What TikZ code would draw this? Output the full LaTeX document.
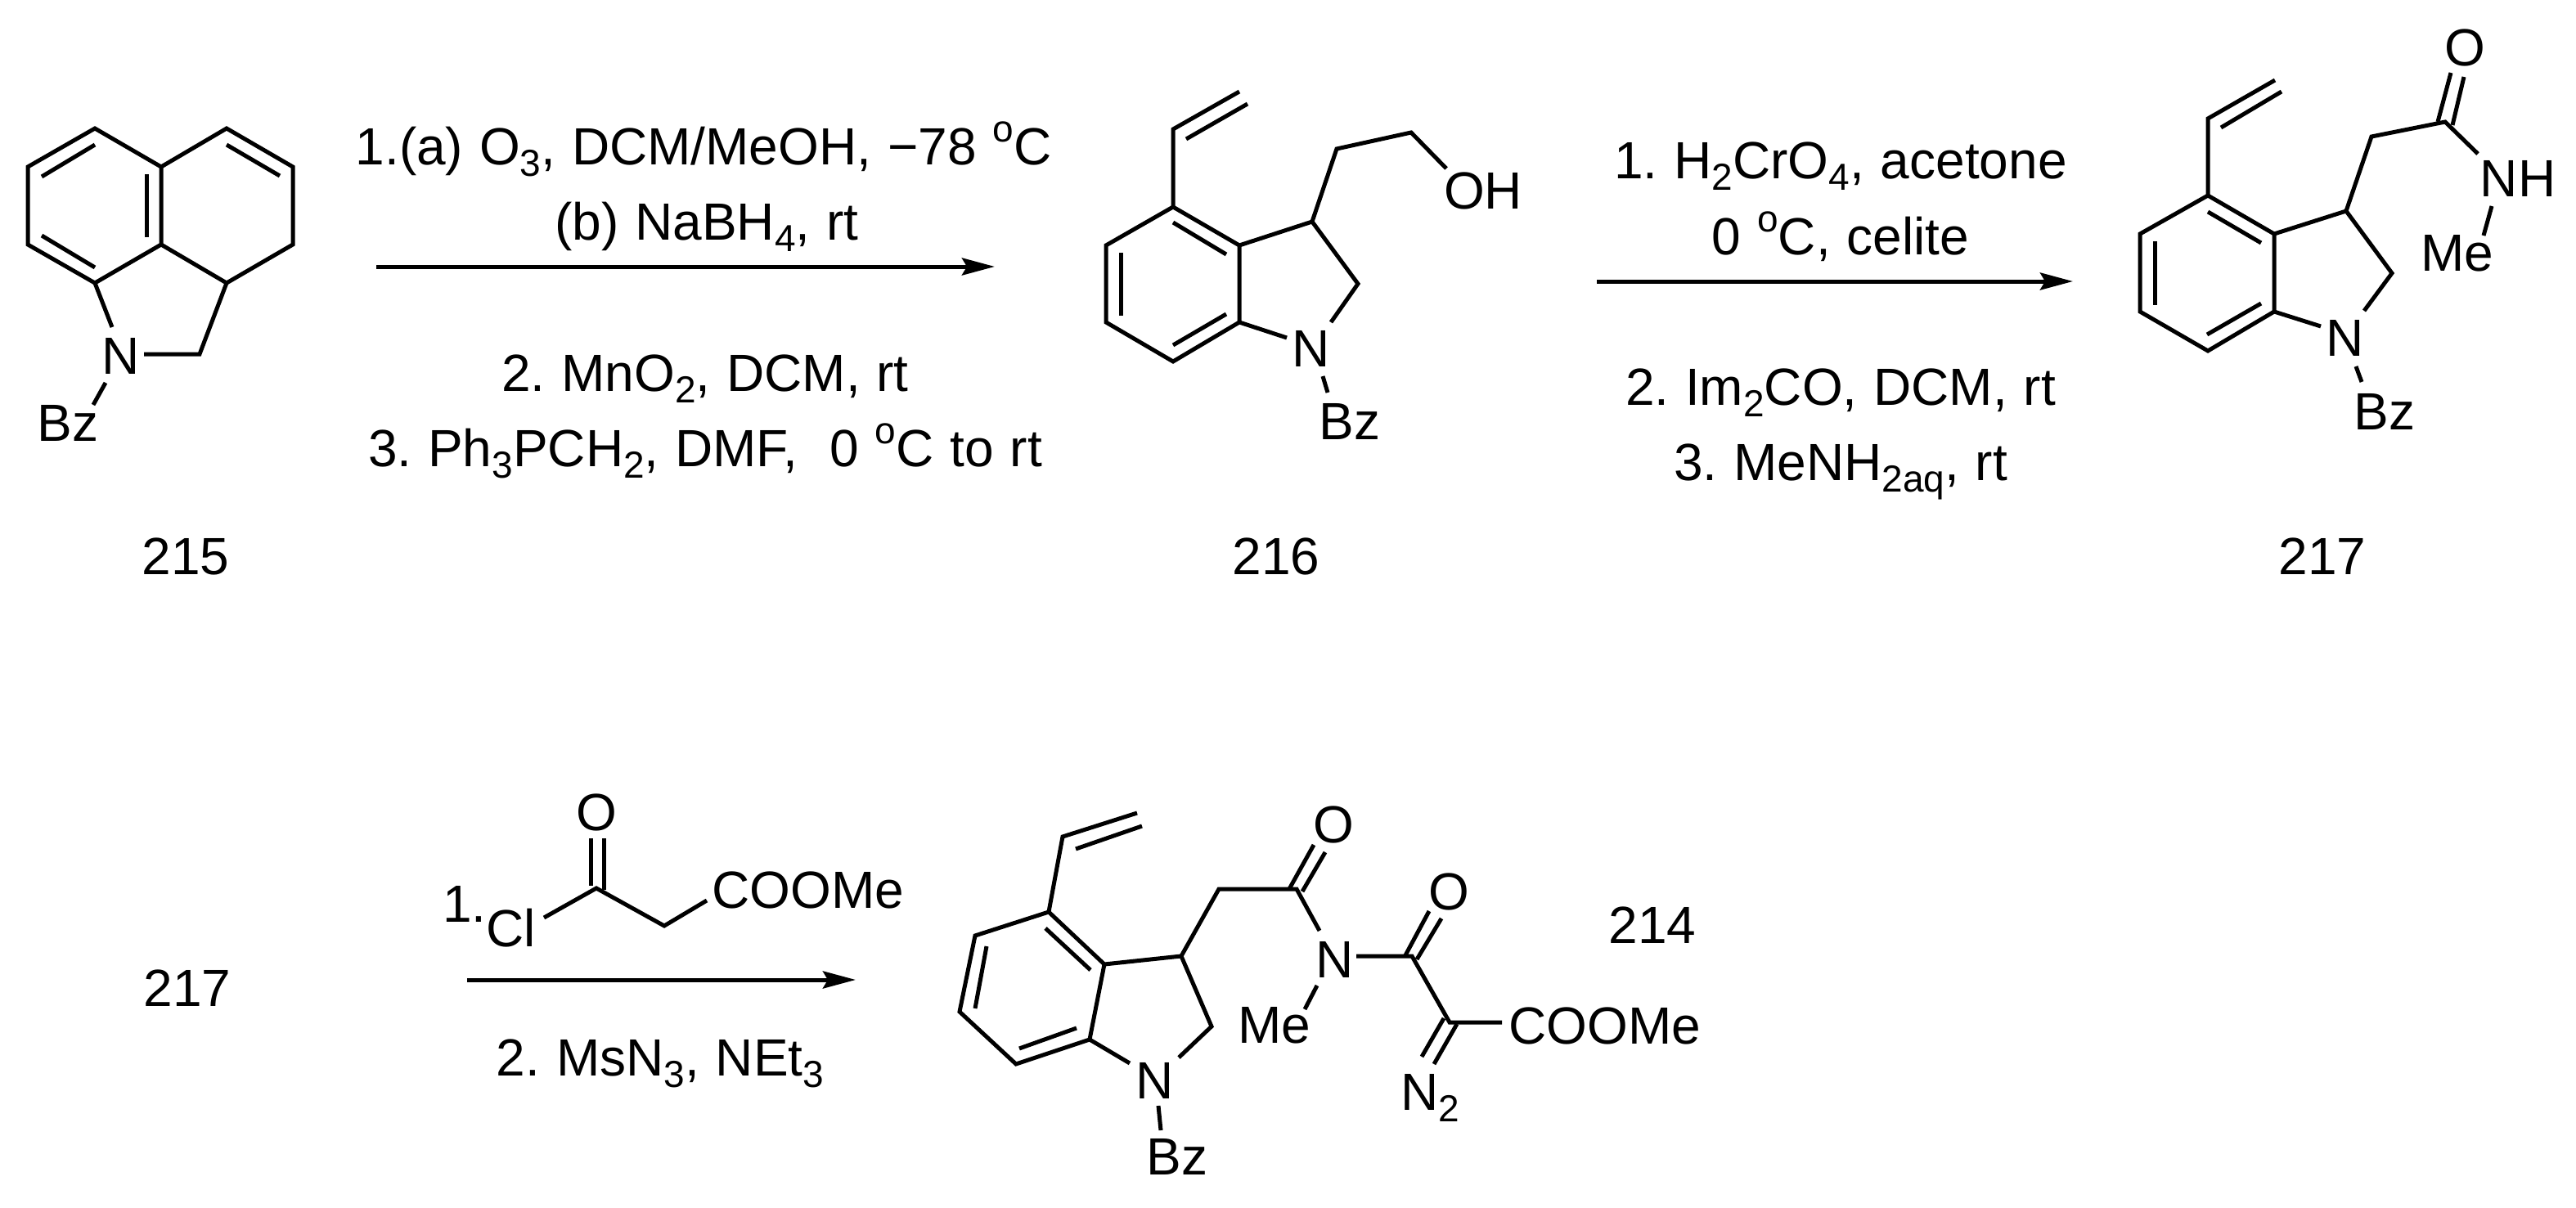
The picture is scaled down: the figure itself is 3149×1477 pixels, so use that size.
\documentclass[tikz,border=0pt]{standalone}
\usepackage{fontspec}
\setmainfont{Liberation Sans}
\usetikzlibrary{arrows.meta}
\newcommand{\sbs}[1]{\raisebox{-7pt}{\fontsize{23}{23}\selectfont #1}}
\newcommand{\spo}{\raisebox{14pt}{\fontsize{23}{23}\selectfont o}}
\newcommand{\lblfont}{\fontsize{32}{36}\selectfont\frenchspacing\spaceskip=0.31em\relax}
\frenchspacing
\tikzset{
  lbl/.style={inner sep=0pt,outer sep=0pt,anchor=base,font=\lblfont,text=black},
  bond/.style={line width=2.5pt,black,line join=miter},
  rxn/.style={line width=2.5pt,black,-{Stealth[length=20pt,width=10.5pt,inset=3pt]}},
}
\begin{document}
\begin{tikzpicture}[x=0.5pt,y=-0.5pt]
\path[use as bounding box,fill=white] (0,0) rectangle (3149,1477);

% ---------- 215 ----------
\coordinate (a1) at (116,157); \coordinate (a2) at (34,204); \coordinate (a3) at (34,299);
\coordinate (a4) at (116,346); \coordinate (a5) at (197,299); \coordinate (a6) at (197,204);
\coordinate (a7) at (277,157); \coordinate (a8) at (358,204); \coordinate (a9) at (358,299);
\coordinate (a10) at (277,346); \coordinate (a11) at (244,433);
\coordinate (a12) at (137,400); \coordinate (a13) at (176,433);
\coordinate (a14) at (129,468); \coordinate (a15) at (114,495);
\draw[bond] (a5) -- (a4) -- (a3) -- (a2) -- (a1) -- (a6) -- cycle;
\draw[bond] (a6) -- (a7) -- (a8) -- (a9) -- (a10) -- (a5);
\draw[bond] (a10) -- (a11) -- (a13);
\draw[bond] (a4) -- (a12);
\draw[bond] (a14) -- (a15);
\draw[bond] (51,216) -- (116,177);
\draw[bond] (179,213) -- (179,290);
\draw[bond] (51,288) -- (116,327);
\draw[bond] (277,177) -- (342,215);
\node[lbl] (n215N) at (148,457) {N};
\node[lbl] (n215Bz) at (83,539) {Bz};
\node[lbl] (n215) at (227,702) {215};

% ---------- reaction 1 ----------
\coordinate (r1s) at (460,326); \coordinate (r1e) at (1216,326);
\draw[rxn] (r1s) -- (r1e);
\node[lbl] (t11) at (860,201) {1.(a) O\sbs{3}, DCM/MeOH, −78 \spo C};
\node[lbl] (t12) at (864,293) {(b) NaBH\sbs{4}, rt};
\node[lbl] (t13) at (862,478) {2. MnO\sbs{2}, DCM, rt};
\node[lbl] (t14) at (862,570) {3. Ph\sbs{3}PCH\sbs{2}, DMF,\ \ 0 \spo C to rt};

% ---------- 216 ----------
\coordinate (b1) at (1515,112); \coordinate (b2) at (1434,158); \coordinate (b3) at (1434,253);
\coordinate (b4) at (1352,300); \coordinate (b5) at (1352,394); \coordinate (b6) at (1434,442);
\coordinate (b7) at (1515,394); \coordinate (b8) at (1515,300); \coordinate (b9) at (1604,271);
\coordinate (b10) at (1660,347); \coordinate (b11) at (1627,394); \coordinate (b12) at (1573,413);
\coordinate (b13) at (1634,182); \coordinate (b14) at (1725,162); \coordinate (b15) at (1768,206);
\coordinate (b16) at (1617,460); \coordinate (b17) at (1623,480);
\draw[bond] (b8) -- (b3) -- (b4) -- (b5) -- (b6) -- (b7) -- cycle;
\draw[bond] (b1) -- (b2) -- (b3);
\draw[bond] (b8) -- (b9) -- (b10) -- (b11);
\draw[bond] (b7) -- (b12);
\draw[bond] (b9) -- (b13) -- (b14) -- (b15);
\draw[bond] (b16) -- (b17);
\draw[bond] (1450,170) -- (1525,127);
\draw[bond] (1434,272) -- (1499,311);
\draw[bond] (1370,309) -- (1370,386);
\draw[bond] (1434,422) -- (1499,384);
\node[lbl] (n216N) at (1603,448) {N};
\node[lbl] (n216Bz) at (1650,537) {Bz};
\node[lbl] (n216OH) at (1813,255) {OH};
\node[lbl] (n216) at (1560,702) {216};

% ---------- reaction 2 ----------
\coordinate (r2s) at (1952,344); \coordinate (r2e) at (2534,344);
\draw[rxn] (r2s) -- (r2e);
\node[lbl] (t21) at (2250,218) {1. H\sbs{2}CrO\sbs{4}, acetone};
\node[lbl] (t22) at (2250,311) {0 \spo C, celite};
\node[lbl] (t23) at (2250,495) {2. Im\sbs{2}CO, DCM, rt};
\node[lbl] (t24) at (2250,587) {3. MeNH\sbs{2aq}, rt};

% ---------- 217 ----------
\coordinate (c1) at (2781,98); \coordinate (c2) at (2699,145); \coordinate (c3) at (2699,239);
\coordinate (c4) at (2616,286); \coordinate (c5) at (2616,381); \coordinate (c6) at (2699,429);
\coordinate (c7) at (2780,381); \coordinate (c8) at (2780,286); \coordinate (c9) at (2868,258);
\coordinate (c10) at (2924,334); \coordinate (c11) at (2890,380); \coordinate (c12) at (2837,399);
\coordinate (c13) at (2899,167); \coordinate (c14) at (2989,149); \coordinate (c15) at (3029,188);
\coordinate (c16) at (3046,252); \coordinate (c17) at (3036,288);
\coordinate (c18) at (2880,448); \coordinate (c19) at (2887,467);
\draw[bond] (c8) -- (c3) -- (c4) -- (c5) -- (c6) -- (c7) -- cycle;
\draw[bond] (c1) -- (c2) -- (c3);
\draw[bond] (c8) -- (c9) -- (c10) -- (c11);
\draw[bond] (c7) -- (c12);
\draw[bond] (c9) -- (c13) -- (c14) -- (c15);
\draw[bond] (c16) -- (c17);
\draw[bond] (c18) -- (c19);
\draw[bond] (2980,149) -- (2996,89);
\draw[bond] (2998,153) -- (3012,94);
\draw[bond] (2715,156) -- (2789,112);
\draw[bond] (2699,259) -- (2764,297);
\draw[bond] (2634,295) -- (2634,373);
\draw[bond] (2698,409) -- (2764,371);
\node[lbl] (n217N) at (2867,435) {N};
\node[lbl] (n217Bz) at (2915,525) {Bz};
\node[lbl] (n217O) at (3013,81) {O};
\node[lbl] (n217NH) at (3078,240) {NH};
\node[lbl] (n217Me) at (3004,331) {Me};
\node[lbl] (n217) at (2839,702) {217};

% ---------- lower row ----------
\node[lbl] (n217b) at (229,1230) {217};
\coordinate (r3s) at (571,1198); \coordinate (r3e) at (1046,1198);
\draw[rxn] (r3s) -- (r3e);
\coordinate (d1) at (729,1086); \coordinate (d2) at (665,1122); \coordinate (d3) at (812,1132); \coordinate (d4) at (864,1101);
\draw[bond] (d2) -- (d1) -- (d3) -- (d4);
\draw[bond] (722,1025) -- (722,1083);
\draw[bond] (738,1025) -- (738,1088);
\node[lbl,anchor=base west] (t31) at (541,1127) {1.};
\node[lbl] (t3Cl) at (625,1157) {Cl};
\node[lbl] (t3O) at (729,1015) {O};
\node[lbl] (t3E) at (988,1110) {COOMe};
\node[lbl] (t32) at (807,1315) {2. MsN\sbs{3}, NEt\sbs{3}};

% ---------- 214 ----------
\coordinate (e1) at (1390,994); \coordinate (e2) at (1299,1023); \coordinate (e3) at (1282,1115);
\coordinate (e4) at (1192,1144); \coordinate (e5) at (1173,1237); \coordinate (e6) at (1242,1301);
\coordinate (e7) at (1332,1271); \coordinate (e8) at (1350,1179); \coordinate (e9) at (1444,1169);
\coordinate (e10) at (1481,1255); \coordinate (e11) at (1441,1293); \coordinate (e12) at (1381,1300);
\coordinate (e13) at (1490,1087); \coordinate (e14) at (1585,1087); \coordinate (e15) at (1613,1138);
\coordinate (e16) at (1610,1205); \coordinate (e17) at (1595,1234);
\coordinate (e18) at (1658,1169); \coordinate (e19) at (1726,1169); \coordinate (e20) at (1772,1250); \coordinate (e21) at (1836,1250);
\coordinate (e22) at (1416,1352); \coordinate (e23) at (1419,1382);
\draw[bond] (e8) -- (e3) -- (e4) -- (e5) -- (e6) -- (e7) -- cycle;
\draw[bond] (e1) -- (e2) -- (e3);
\draw[bond] (e8) -- (e9) -- (e10) -- (e11);
\draw[bond] (e7) -- (e12);
\draw[bond] (e9) -- (e13) -- (e14) -- (e15);
\draw[bond] (e16) -- (e17);
\draw[bond] (e18) -- (e19) -- (e20) -- (e21);
\draw[bond] (e22) -- (e23);
\draw[bond] (1576,1087) -- (1606,1033);
\draw[bond] (1592,1090) -- (1620,1042);
\draw[bond] (1718,1168) -- (1747,1114);
\draw[bond] (1732,1173) -- (1762,1123);
\draw[bond] (1765,1245) -- (1738,1292);
\draw[bond] (1781,1252) -- (1753,1301);
\draw[bond] (1315,1038) -- (1396,1010);
\draw[bond] (1278,1135) -- (1333,1186);
\draw[bond] (1206,1157) -- (1192,1233);
\draw[bond] (1246,1282) -- (1316,1257);
\node[lbl] (n214N) at (1412,1343) {N};
\node[lbl] (n214Bz) at (1439,1436) {Bz};
\node[lbl] (n214O1) at (1630,1030) {O};
\node[lbl] (n214O2) at (1771,1112) {O};
\node[lbl] (n214N2) at (1632,1195) {N};
\node[lbl] (n214Me) at (1558,1275) {Me};
\node[lbl] (n214E) at (1962,1276) {COOMe};
\node[lbl] (n214N3) at (1748,1357) {N\sbs{2}};
\node[lbl] (n214) at (2020,1153) {214};
\end{tikzpicture}
\end{document}
